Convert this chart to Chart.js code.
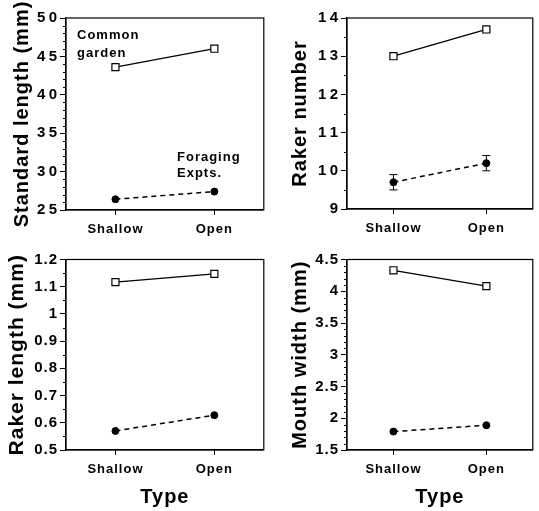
<!DOCTYPE html>
<html>
<head>
<meta charset="utf-8">
<script src="https://cdn.jsdelivr.net/npm/chart.js@4/dist/chart.umd.min.js"></script>
<style>
  body { margin: 0; background: #fff; }
  #fig { position: relative; width: 539px; height: 511px; background: #fff; }
  canvas { position: absolute; }
</style>
</head>
<body>
<div id="fig">
  <canvas id="c1" width="270" height="250" style="left:0;top:0"></canvas>
  <canvas id="c2" width="269" height="250" style="left:270px;top:0"></canvas>
  <canvas id="c3" width="270" height="261" style="left:0;top:250px"></canvas>
  <canvas id="c4" width="269" height="261" style="left:270px;top:250px"></canvas>
</div>
<script>
// fish type on the x axis
const types = ['Shallow', 'Open'];

// standard length (mm)
const stdLenGarden = [43.6, 46.0];
const stdLenForage = [26.4, 27.4];

// raker number
const rakerNumGarden = [13.0, 13.7];
const rakerNumForage = [9.7, 10.2];
const rakerNumForageErr = [0.2, 0.2];

// raker length (mm)
const rakerLenGarden = [1.117, 1.147];
const rakerLenForage = [0.57, 0.628];

// mouth width (mm)
const mouthGarden = [4.33, 4.08];
const mouthForage = [1.79, 1.89];

const FONT = "'Liberation Sans', Arial, Helvetica, sans-serif";

// the printed figure uses a slightly spread-out bold face
const spacing = {
  id: 'spacing',
  beforeUpdate(chart) { chart.ctx.letterSpacing = '1px'; },
  beforeDraw(chart) { chart.ctx.letterSpacing = '1px'; }
};

// box around the plot, minor ticks, error bars and text notes
const extras = {
  id: 'extras',
  afterDatasetsDraw(chart, args, opts) {
    const ctx = chart.ctx;
    const a = chart.chartArea;
    const y = chart.scales.y;
    const x = chart.scales.x;
    ctx.save();
    ctx.strokeStyle = '#000';
    ctx.lineWidth = 1.2;
    ctx.strokeRect(a.left, a.top, a.right - a.left, a.bottom - a.top);

    // minor ticks
    ctx.lineWidth = 1;
    const n = Math.round((opts.max - opts.min) / opts.minor);
    const per = Math.round(opts.major / opts.minor);
    for (let i = 0; i <= n; i++) {
      if (i % per === 0) continue;
      const py = Math.round(y.getPixelForValue(opts.min + i * opts.minor)) + 0.5;
      ctx.beginPath();
      ctx.moveTo(a.left - 3, py);
      ctx.lineTo(a.left, py);
      ctx.stroke();
    }

    // error bars
    if (opts.err) {
      const vals = chart.data.datasets[1].data;
      ctx.lineWidth = 1;
      opts.err.forEach((e, i) => {
        const px = x.getPixelForValue(i);
        const hi = y.getPixelForValue(vals[i] + e);
        const lo = y.getPixelForValue(vals[i] - e);
        ctx.beginPath();
        ctx.moveTo(px, hi); ctx.lineTo(px, lo);
        ctx.moveTo(px - 4, hi); ctx.lineTo(px + 4, hi);
        ctx.moveTo(px - 4, lo); ctx.lineTo(px + 4, lo);
        ctx.stroke();
      });
    }

    // notes
    if (opts.notes) {
      ctx.fillStyle = '#000';
      ctx.font = 'bold 13px ' + FONT;
      ctx.textBaseline = 'middle';
      ctx.textAlign = 'left';
      opts.notes.forEach(nt => ctx.fillText(nt.text, a.left + nt.dx, a.top + nt.dy));
    }
    ctx.restore();
  }
};

function makePanel(id, p) {
  const spaced = v => String(+v.toFixed(2)).split('').join('\u200A');
  const plain = v => String(+v.toFixed(2));
  new Chart(document.getElementById(id), {
    type: 'line',
    data: {
      labels: types,
      datasets: [{
        data: p.garden,
        borderColor: '#000',
        borderWidth: 1.3,
        pointStyle: 'rect',
        pointRadius: 5,
        pointBackgroundColor: '#fff',
        pointBorderColor: '#000',
        pointBorderWidth: 1.2
      }, {
        data: p.forage,
        borderColor: '#000',
        borderWidth: 1.5,
        borderDash: [5, 4],
        pointStyle: 'circle',
        pointRadius: 3.5,
        pointBackgroundColor: '#000',
        pointBorderColor: '#000',
        pointBorderWidth: 1
      }]
    },
    options: {
      responsive: false,
      animation: false,
      layout: { padding: { top: p.top, right: p.right, left: 0, bottom: 0 } },
      plugins: {
        legend: { display: false },
        tooltip: { enabled: false },
        extras: { min: p.min, max: p.max, major: p.major, minor: p.minor, err: p.err, notes: p.notes }
      },
      scales: {
        x: {
          type: 'category',
          offset: true,
          grid: { offset: false, drawOnChartArea: false, color: '#000', tickLength: 5, lineWidth: 1 },
          border: { color: '#000', width: 1.2 },
          ticks: { color: '#000', padding: 7, font: { family: FONT, size: 13, weight: 'bold' } },
          title: {
            display: p.showType,
            text: 'Type',
            color: '#000',
            padding: { top: 0, bottom: 4 },
            font: { family: FONT, size: 20, weight: 'bold', lineHeight: 1 }
          },
          afterFit: s => { s.height = p.xH; }
        },
        y: {
          min: p.min,
          max: p.max,
          grid: { drawOnChartArea: false, color: '#000', tickLength: 6, lineWidth: 1 },
          border: { color: '#000', width: 1.2 },
          ticks: {
            stepSize: p.major,
            color: '#000',
            padding: 2,
            font: { family: FONT, size: 15, weight: 'bold', lineHeight: 1 },
            callback: p.spaced ? spaced : plain
          },
          title: {
            display: true,
            text: p.title,
            color: '#000',
            padding: { top: p.titlePad, bottom: 0 },
            font: { family: FONT, size: p.titleSize, weight: 'bold', lineHeight: 1.2 }
          },
          afterFit: s => { s.width = p.yW; }
        }
      }
    },
    plugins: [spacing, extras]
  });
}

makePanel('c1', {
  garden: stdLenGarden, forage: stdLenForage,
  min: 25, max: 50, major: 5, minor: 1, spaced: true,
  title: 'Standard length (mm)', titlePad: 10, titleSize: 20,
  yW: 66, xH: 40, top: 18, right: 5, showType: false,
  notes: [
    { text: 'Common', dx: 11, dy: 17 },
    { text: 'garden', dx: 11, dy: 35 },
    { text: 'Foraging', dx: 111, dy: 139 },
    { text: 'Expts.', dx: 111, dy: 155 }
  ]
});

makePanel('c2', {
  garden: rakerNumGarden, forage: rakerNumForage, err: rakerNumForageErr,
  min: 9, max: 14, major: 1, minor: 0.5, spaced: true,
  title: 'Raker number', titlePad: 18, titleSize: 20,
  yW: 77, xH: 41, top: 18, right: 1, showType: false
});

makePanel('c3', {
  garden: rakerLenGarden, forage: rakerLenForage,
  min: 0.5, max: 1.2, major: 0.1, minor: 0.05, spaced: false,
  title: 'Raker length (mm)', titlePad: 5, titleSize: 21,
  yW: 66, xH: 61, top: 7, right: 5, showType: true
});

makePanel('c4', {
  garden: mouthGarden, forage: mouthForage,
  min: 1.5, max: 4.5, major: 0.5, minor: 0.1, spaced: false,
  title: 'Mouth width (mm)', titlePad: 18, titleSize: 20,
  yW: 77, xH: 61, top: 7, right: 1, showType: true
});
</script>
</body>
</html>
